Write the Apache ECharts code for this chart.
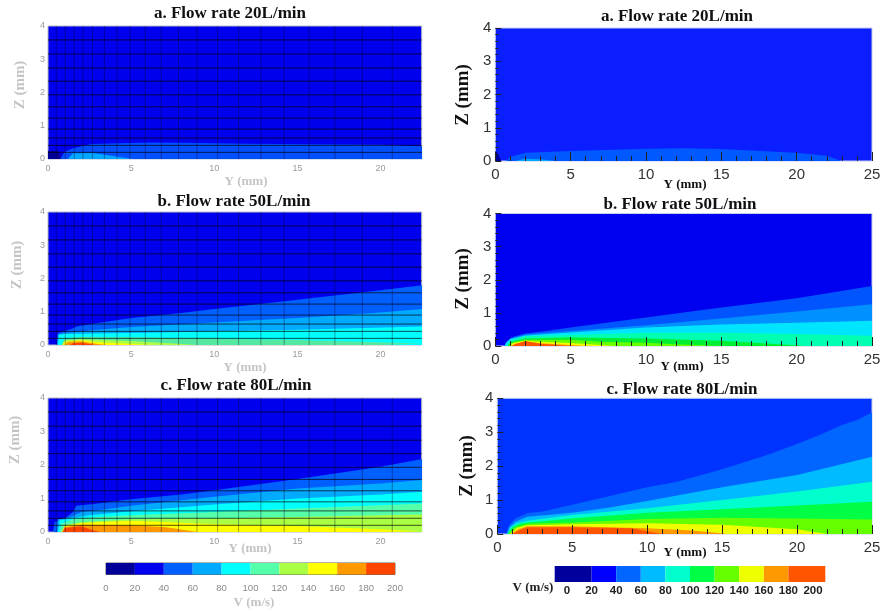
<!DOCTYPE html>
<html><head><meta charset="utf-8">
<script src="https://cdn.jsdelivr.net/npm/echarts@6/dist/echarts.min.js"></script>
<style>html,body{margin:0;background:#fff}#main{width:880px;height:614px;filter:blur(0.55px)}</style>
</head><body><div id="main"></div>
<script>
// Mesh stations of the left-hand (measured) panels
const meshY = [0.5,1.04,1.58,2.1,2.67,3.39,4.15,4.93,5.85,6.81,7.85,8.96,10.2,11.46,12.8,14.2,15.7,17.25,18.9,20.7];
const meshZ = [3.58,3.16,2.74,2.34,1.93,1.57,1.23,0.9,0.63,0.41,0.2];
const legendEdgesL = [0,20,40,60,80,100,120,140,160,180,200];
const legendEdgesR = [-10,20,40,60,80,100,120,140,160,180,210];

// Left a (20 L/min): upper edge [Y, Z] of each velocity band
const la0  = [[0,.25],[.6,.25],[.85,0]];
const la40 = [[.75,0],[1,.22],[1.5,.32],[2.6,.45],[6,.5],[8,.49],[12,.46],[20,.43],[22.5,.38]];
const la60 = [[1.2,0],[1.5,.17],[2.7,.18],[4,.08],[5,.01],[5.2,0]];
// Left b (50 L/min)
const lb40 = [[.55,0],[.6,.36],[1.5,.5],[1.7,.56],[3,.66],[5,.81],[8,.96],[10,1.08],[15,1.36],[20,1.65],[22.5,1.8]];
const lb60 = [[.55,0],[.6,.33],[1,.36],[3,.46],[5,.54],[10,.68],[15,.81],[20,.98],[22.5,1.08]];
const lb80 = [[.6,0],[.65,.3],[1,.33],[2,.34],[5,.36],[10,.41],[15,.46],[22.5,.56]];
const lb100 = [[.8,0],[1,.2],[2,.24],[5,.23],[10,.19],[15,.15],[20,.08],[22.5,.04]];
const lb120 = [[.85,0],[1,.14],[2,.17],[5,.12],[8,.03],[9,0]];
const lb140 = [[.9,0],[1,.1],[2,.14],[3,.08],[6,.01],[6.5,0]];
const lb160 = [[1,0],[1.2,.1],[2,.11],[2.7,.05],[3.5,0]];
const lb180 = [[1.3,0],[1.5,.05],[2,.07],[2.5,.03],[2.8,0]];
// Left c (80 L/min)
const lc40 = [[.3,0],[.4,.3],[1,.4],[1.5,.6],[1.7,.78],[3,.85],[5,.98],[8,1.12],[10,1.25],[15,1.58],[20,1.95],[22.5,2.18]];
const lc60 = [[.55,0],[.6,.38],[1,.4],[1.5,.48],[2,.6],[3,.65],[5,.78],[10,1.05],[15,1.3],[20,1.45],[22.5,1.55]];
const lc80 = [[.6,0],[.7,.35],[1.5,.42],[2.5,.5],[5,.62],[10,.82],[15,1.0],[20,1.12],[22.5,1.2]];
const lc100 = [[.7,0],[.8,.25],[1.5,.38],[3,.45],[5,.5],[10,.6],[15,.7],[20,.8],[22.5,.85]];
const lc120 = [[.8,0],[1,.2],[2,.3],[5,.38],[10,.4],[15,.45],[20,.5],[22.5,.52]];
const lc140 = [[.85,0],[1,.18],[2,.27],[5,.33],[7,.3],[10,.23],[15,.18],[20,.08],[22.5,.02]];
const lc160 = [[.85,0],[1,.15],[2,.22],[5,.2],[7,.15],[8.7,.02],[9,0]];
const lc180 = [[.9,0],[1,.12],[2,.17],[2.8,.04],[3.2,0]];
// Right a (20 L/min)
const ra0  = [[0,.3],[.15,.25],[.4,0]];
const ra40 = [[.7,0],[1,.13],[2,.25],[5,.3],[10,.37],[12.5,.38],[15,.36],[20,.25],[22,.16],[23,0]];
const ra60 = [[1.3,0],[2,.07],[3,.05],[4,0]];
// Right b (50 L/min)
const rb40 = [[.6,0],[.8,.16],[1.2,.28],[2,.38],[3,.43],[5,.56],[10,.86],[15,1.16],[20,1.44],[25,1.81]];
const rb60 = [[.62,0],[.7,.1],[1,.23],[2,.35],[5,.45],[10,.63],[15,.83],[20,1.04],[25,1.26]];
const rb80 = [[.65,0],[.7,.08],[1,.21],[2,.32],[5,.41],[10,.56],[15,.65],[20,.7],[25,.76]];
const rb100 = [[.7,0],[.75,.05],[1.2,.2],[2,.3],[5,.33],[10,.4],[15,.4],[20,.36],[25,.31]];
const rb120 = [[.8,0],[1,.13],[2,.23],[5,.26],[10,.23],[15,.16],[20,.02],[20.5,0]];
const rb140 = [[.9,0],[1.1,.1],[2,.19],[5,.19],[7,.13],[10,.1],[12,.05],[15,0]];
const rb160 = [[1,0],[1.2,.1],[2,.16],[3,.13],[5,.09],[7,.03],[8,0]];
const rb180 = [[1.05,0],[1.3,.07],[2,.13],[3,.08],[5,.03],[6,0]];
const rb200 = [[1.1,0],[1.3,.05],[2,.15],[3,.07],[4,.03],[5,0]];
// Right c (80 L/min)
const rc40 = [[.6,0],[.8,.27],[1.2,.46],[2,.61],[3,.66],[5,.86],[7.5,1.12],[10,1.38],[12,1.54],[15,1.91],[18,2.33],[20,2.65],[21.5,2.92],[23,3.21],[24,3.36],[25,3.58]];
const rc60 = [[.65,0],[.8,.2],[1.2,.36],[2,.51],[5,.63],[7.5,.78],[10,.97],[15,1.38],[20,1.74],[22,1.95],[25,2.28]];
const rc80 = [[.65,0],[.9,.2],[1.3,.32],[2,.39],[5,.56],[10,.76],[15,1.0],[20,1.25],[25,1.54]];
const rc100 = [[.7,0],[1,.2],[1.5,.3],[2,.34],[5,.46],[10,.63],[15,.73],[20,.84],[25,.95]];
const rc120 = [[.75,0],[1.2,.2],[2,.3],[5,.34],[10,.44],[15,.48],[20,.46],[25,.43]];
const rc140 = [[.85,0],[1.3,.18],[2,.26],[5,.29],[10,.32],[15,.27],[20,.14],[22,0]];
const rc160 = [[.9,0],[1.4,.15],[2,.23],[5,.23],[10,.17],[13,.1],[15,.02],[15.3,0]];
const rc180 = [[1,0],[1.5,.12],[2,.2],[5,.2],[9,.17],[10,.08],[11,0]];

const leftScale  = ['#000099','#0000ee','#0060ff','#00aaff','#00ffff','#55ffaa','#aaff44','#ffff00','#ff9900','#ff4400'];
const rightScale = ['#00009c','#0000ff','#0066ff','#00bbff','#00ffcc','#00ff44','#66ff00','#eeff00','#ff9900','#ff5500'];

const panels = [
 {rect:[48,26,373.7,133], title:'a. Flow rate 20L/min', xMax:22.47, left:true, bg:'#0000ee',
  bands:[[la0,'#000099'],[la40,'#0050ff'],[la60,'#00a8ff']]},
 {rect:[48,212,373.7,133], title:'b. Flow rate 50L/min', xMax:22.47, left:true, bg:'#0000ee',
  bands:[[lb40,leftScale[2]],[lb60,leftScale[3]],[lb80,leftScale[4]],[lb100,'#55e8a0'],[lb120,leftScale[6]],[lb140,leftScale[7]],[lb160,leftScale[8]],[lb180,leftScale[9]]]},
 {rect:[48,398,373.7,134], title:'c. Flow rate 80L/min', xMax:22.47, left:true, bg:'#0000ee',
  bands:[[lc40,leftScale[2]],[lc60,leftScale[3]],[lc80,leftScale[4]],[lc100,leftScale[5]],[lc120,leftScale[6]],[lc140,leftScale[7]],[lc160,leftScale[8]],[lc180,leftScale[9]]]},
 {rect:[495.3,28,376.7,133], title:'a. Flow rate 20L/min', xMax:25, left:false, bg:'#0a1eff',
  bands:[[ra0,'#00009c'],[ra40,'#0058ff'],[ra60,'#00a8ff']]},
 {rect:[495.3,213.5,376.7,132.5], title:'b. Flow rate 50L/min', xMax:25, left:false, bg:'#0000f0',
  bands:[[rb40,'#0055ff'],[rb60,'#0090ff'],[rb80,'#00e5ff'],[rb100,'#00ffb0'],[rb120,'#00ee33'],[rb140,'#66ff00'],[rb160,'#eeff00'],[rb180,'#ff9900'],[rb200,'#ff5500']]},
 {rect:[497.3,398.3,374.7,135.7], title:'c. Flow rate 80L/min', xMax:25, left:false, bg:'#0033ff',
  bands:[[rc40,rightScale[2]],[rc60,rightScale[3]],[rc80,rightScale[4]],[rc100,rightScale[5]],[rc120,rightScale[6]],[rc140,rightScale[7]],[rc160,rightScale[8]],[rc180,rightScale[9]]]}
];
const titlePos = [[230,14],[234,202],[236,386],[677,17],[680,205],[682,390]];
const yNames = [[20,85],[17,265],[15,440],[463,95],[463,279],[467,466]];
const xNames = [[246,182],[245,368],[250,549],[685,185],[682,367],[685,553]];

const grid=[],xAxis=[],yAxis=[],series=[],graphic=[];
const SERIF='"Liberation Serif","DejaVu Serif",serif';
const NARROW='"Liberation Sans Narrow","Liberation Sans",sans-serif';
const SANS='"Liberation Sans",sans-serif';

panels.forEach((p,i)=>{
  grid.push({left:p.rect[0],top:p.rect[1],width:p.rect[2],height:p.rect[3],outerBoundsMode:'none',show:true,backgroundColor:p.bg,
    borderColor:p.left?'#b5bac8':'#c4ccf0',borderWidth:1});
  const L=p.left;
  xAxis.push({type:'value',gridIndex:i,min:0,max:p.xMax,interval:5,z:6,splitLine:{show:false},
    axisLine:{show:false},
    axisTick:{show:!L,inside:true,length:9,lineStyle:{color:'#222',width:1}},
    minorTick:{show:!L,splitNumber:5,length:5,lineStyle:{color:'#222',width:1}},
    minorSplitLine:{show:false},
    axisLabel:{showMaxLabel:L?false:true,color:L?'#9a9a9a':'#333',fontFamily:L?NARROW:SANS,fontSize:L?9:15,margin:L?5:6}});
  yAxis.push({type:'value',gridIndex:i,min:0,max:4,interval:1,z:6,splitLine:{show:false},
    axisLine:{show:false},
    axisTick:{show:!L,inside:true,length:6,lineStyle:{color:'#222',width:1}},
    minorTick:{show:!L,splitNumber:5,length:3,lineStyle:{color:'#222',width:1}},
    axisLabel:{color:L?'#9a9a9a':'#333',fontFamily:L?NARROW:SANS,fontSize:L?9:15,margin:L?3:4}});
  p.bands.forEach(b=>series.push({type:'line',xAxisIndex:i,yAxisIndex:i,data:b[0],showSymbol:false,symbol:'none',silent:true,z:2,
    lineStyle:{width:0},areaStyle:{color:b[1],opacity:1,origin:'start'},animation:false}));
  if(L){
    meshY.forEach(y=>series.push({type:'line',xAxisIndex:i,yAxisIndex:i,data:[[y,0],[y,4]],symbol:'none',silent:true,z:3,animation:false,
      lineStyle:{color:'rgba(0,0,40,0.38)',width:1}}));
    meshZ.forEach(z=>series.push({type:'line',xAxisIndex:i,yAxisIndex:i,data:[[0,z],[p.xMax,z]],symbol:'none',silent:true,z:3,animation:false,
      lineStyle:{color:'rgba(0,0,0,0.68)',width:1}}));
  }
  graphic.push({type:'text',x:titlePos[i][0],y:titlePos[i][1],style:{text:p.title,font:'bold 17px '+SERIF,fill:'#111',align:'center',verticalAlign:'middle'}});
  graphic.push({type:'text',x:yNames[i][0],y:yNames[i][1],rotation:Math.PI/2,style:{text:'Z (mm)',font:'bold '+(L?15:19)+'px '+SERIF,fill:L?'#c4c4c4':'#111',align:'center',verticalAlign:'middle'}});
  graphic.push({type:'text',x:xNames[i][0],y:xNames[i][1],style:{text:'Y (mm)',font:'bold 13px '+SERIF,fill:L?'#c4c4c4':'#111',align:'center',verticalAlign:'middle'}});
});

// Colour bars
function colourBar(idx,rect,edges,colours,labelOpt,border){
  grid.push({left:rect[0],top:rect[1],width:rect[2],height:rect[3],outerBoundsMode:'none',show:border,borderColor:'#666',borderWidth:1,backgroundColor:'transparent'});
  xAxis.push({type:'value',gridIndex:idx,min:0,max:200,interval:20,splitLine:{show:false},axisLine:{show:false},axisTick:{show:false},axisLabel:labelOpt});
  yAxis.push({type:'value',gridIndex:idx,min:0,max:1,show:false,splitLine:{show:false}});
  series.push({type:'custom',xAxisIndex:idx,yAxisIndex:idx,silent:true,animation:false,clip:false,encode:{x:[0,1]},
    data:colours.map((c,k)=>[edges[k],edges[k+1]]),
    renderItem:(params,api)=>{
      const a=api.coord([api.value(0),1]),b=api.coord([api.value(1),0]);
      return {type:'rect',shape:{x:a[0],y:a[1],width:b[0]-a[0],height:b[1]-a[1]},style:{fill:colours[params.dataIndex]}};
    }});
}
colourBar(6,[106,563,289,11.5],legendEdgesL,leftScale,{color:'#8a8a8a',fontFamily:NARROW,fontSize:9.5,margin:9},true);
colourBar(7,[567,566,246,16],legendEdgesR,rightScale,{color:'#222',fontFamily:SANS,fontSize:11.5,fontWeight:'bold',margin:3,hideOverlap:false},false);
graphic.push({type:'text',x:254,y:603,style:{text:'V (m/s)',font:'bold 13px '+SERIF,fill:'#c4c4c4',align:'center',verticalAlign:'middle'}});
graphic.push({type:'text',x:533,y:588,style:{text:'V (m/s)',font:'bold 13px '+SERIF,fill:'#222',align:'center',verticalAlign:'middle'}});

const chart=echarts.init(document.getElementById('main'),null,{renderer:'canvas'});
chart.setOption({animation:false,backgroundColor:'#fff',grid,xAxis,yAxis,series,graphic});
</script></body></html>
